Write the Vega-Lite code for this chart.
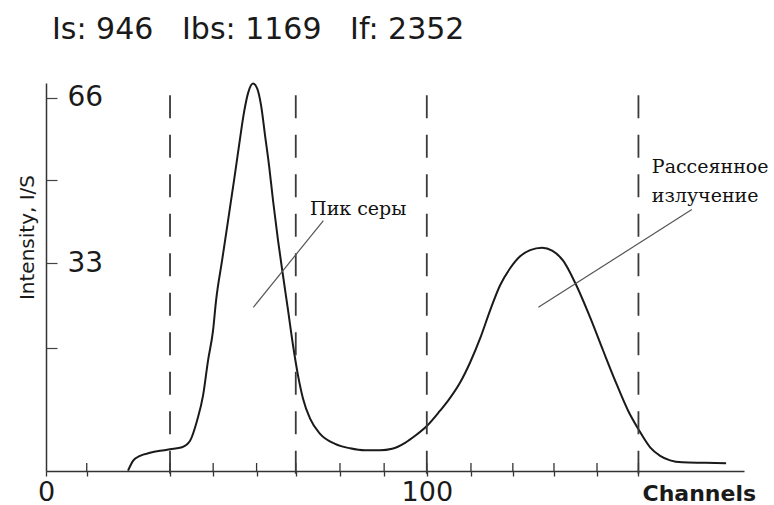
{
  "$schema": "https://vega.github.io/schema/vega-lite/v6.json",
  "width": 698,
  "height": 388,
  "autosize": "none",
  "padding": {"left": 46, "top": 83, "right": 30, "bottom": 34},
  "background": "white",
  "config": {"view": {"stroke": null}},
  "title": {
    "text": "Is: 946\u00a0\u00a0\u00a0Ibs: 1169\u00a0\u00a0\u00a0If: 2352",
    "anchor": "start",
    "frame": "group",
    "dx": 6,
    "offset": 35,
    "font": "DejaVu Sans",
    "fontSize": 30,
    "fontWeight": "normal",
    "color": "#1a1a1a"
  },
  "datasets": {
    "curve": [
      {"ch": 21.54, "I": -8.36}, {"ch": 22.85, "I": -6.4}, {"ch": 24.69, "I": -5.4}, {"ch": 27.32, "I": -4.8},
      {"ch": 29.95, "I": -4.4}, {"ch": 32.57, "I": -4.1}, {"ch": 35.72, "I": -3.7}, {"ch": 37.83, "I": -2.4},
      {"ch": 39.66, "I": 1.6}, {"ch": 41.24, "I": 6.6}, {"ch": 42.55, "I": 13.6}, {"ch": 43.87, "I": 19.6},
      {"ch": 44.65, "I": 25.5}, {"ch": 46.23, "I": 33.5}, {"ch": 47.81, "I": 41.5}, {"ch": 49.38, "I": 49.5},
      {"ch": 50.7, "I": 56.5}, {"ch": 52.01, "I": 63.1}, {"ch": 53.06, "I": 66.9}, {"ch": 54.37, "I": 68.8},
      {"ch": 55.42, "I": 67.9}, {"ch": 56.47, "I": 64.5}, {"ch": 57.52, "I": 58.5}, {"ch": 58.57, "I": 52.5},
      {"ch": 59.62, "I": 45.5}, {"ch": 60.94, "I": 37.5}, {"ch": 62.25, "I": 30.5}, {"ch": 63.57, "I": 23.6},
      {"ch": 64.88, "I": 16.6}, {"ch": 66.19, "I": 10.6}, {"ch": 67.5, "I": 6.0}, {"ch": 69.35, "I": 2.0},
      {"ch": 71.97, "I": -1.0}, {"ch": 75.91, "I": -3.0}, {"ch": 79.85, "I": -3.9}, {"ch": 83.8, "I": -4.3},
      {"ch": 87.73, "I": -4.3}, {"ch": 90.89, "I": -4.0}, {"ch": 94.3, "I": -2.8}, {"ch": 96.93, "I": -1.4},
      {"ch": 100.08, "I": 0.6}, {"ch": 103.49, "I": 3.6}, {"ch": 105.6, "I": 5.6}, {"ch": 108.75, "I": 9.2},
      {"ch": 111.37, "I": 13.2}, {"ch": 114.0, "I": 18.0}, {"ch": 116.63, "I": 23.6}, {"ch": 119.25, "I": 28.6},
      {"ch": 121.88, "I": 32.0}, {"ch": 124.51, "I": 34.4}, {"ch": 127.13, "I": 35.6}, {"ch": 130.29, "I": 36.1},
      {"ch": 132.91, "I": 35.5}, {"ch": 135.8, "I": 33.5}, {"ch": 138.95, "I": 29.1}, {"ch": 142.89, "I": 22.2},
      {"ch": 146.3, "I": 15.6}, {"ch": 149.46, "I": 9.6}, {"ch": 152.87, "I": 3.6}, {"ch": 155.5, "I": 0.0},
      {"ch": 158.65, "I": -3.7}, {"ch": 161.28, "I": -5.4}, {"ch": 163.9, "I": -6.3}, {"ch": 167.06, "I": -6.7},
      {"ch": 173.1, "I": -6.8}, {"ch": 178.6, "I": -6.9}
    ],
    "dashes": [
      {"ch": 32.57, "top": 66.46, "bottom": -9.26},
      {"ch": 65.59, "top": 66.46, "bottom": -9.26},
      {"ch": 100.0, "top": 66.46, "bottom": -9.26},
      {"ch": 155.58, "top": 66.46, "bottom": -9.26}
    ],
    "ticks": [
      {"ch": 10.7}, {"ch": 32.57}, {"ch": 43.9}, {"ch": 55.3}, {"ch": 65.59}, {"ch": 77.2}, {"ch": 88.8},
      {"ch": 100.0}, {"ch": 111.6}, {"ch": 122.6}, {"ch": 133.4}, {"ch": 144.7}, {"ch": 155.58}
    ],
    "pointers": [
      {"id": "s", "ch": 72.84, "I": 41.5}, {"id": "s", "ch": 54.45, "I": 24.2},
      {"id": "r", "ch": 169.6, "I": 43.7}, {"id": "r", "ch": 129.3, "I": 24.2}
    ],
    "labels": [
      {"ch": 69.35, "I": 42.7, "text": "Пик серы"},
      {"ch": 159.1, "I": 50.96, "text": "Рассеянное"},
      {"ch": 159.1, "I": 45.17, "text": "излучение"}
    ]
  },
  "layer": [
    {
      "data": {"name": "curve"},
      "mark": {"type": "line", "color": "#1a1a1a", "strokeWidth": 2, "interpolate": "monotone"},
      "encoding": {
        "x": {
          "field": "ch", "type": "quantitative",
          "scale": {"domain": [0, 183.3], "nice": false, "zero": false},
          "axis": {
            "title": "Channels",
            "values": [0, 10.7, 32.57, 43.9, 55.3, 65.59, 77.2, 88.8, 100, 111.6, 122.6, 133.4, 144.7, 155.58],
            "labelExpr": "datum.value == 0 || datum.value == 100 ? datum.label : ''",
            "grid": false,
            "tickSize": 5, "tickColor": "#333", "tickWidth": 1.3,
            "domainColor": "#333", "domainWidth": 1.5,
            "labelPadding": 3, "labelFlush": false, "labelOverlap": false,
            "labelFont": "DejaVu Sans", "labelFontSize": 27, "labelColor": "#1a1a1a",
            "titleFont": "DejaVu Sans", "titleFontSize": 22, "titleFontWeight": "bold", "titleColor": "#1a1a1a",
            "titleX": 596, "titleY": 22, "titleAlign": "left", "titleBaseline": "middle", "titleAnchor": "start"
          }
        },
        "y": {
          "field": "I", "type": "quantitative",
          "scale": {"domain": [-8.42, 68.92], "nice": false, "zero": false},
          "axis": {
            "title": "Intensity, I/S",
            "values": [16.12, 33, 49.64, 66],
            "labelExpr": "datum.value == 33 || datum.value == 66 ? format(datum.value, 'd') : ''",
            "grid": false,
            "tickSize": -11, "tickColor": "#444", "tickWidth": 1.2,
            "domainColor": "#333", "domainWidth": 1.5,
            "labelAlign": "left", "labelPadding": -10, "labelBaseline": "middle",
            "labelFont": "DejaVu Sans", "labelFontSize": 28, "labelColor": "#1a1a1a",
            "titleFont": "DejaVu Sans", "titleFontSize": 20, "titleFontWeight": "normal", "titleColor": "#1a1a1a",
            "titleX": -19, "titleY": 154, "titleAngle": -90, "titleAlign": "center", "titleBaseline": "middle"
          }
        }
      }
    },
    {
      "data": {"name": "ticks"},
      "mark": {"type": "rule", "color": "#333", "strokeWidth": 1.3},
      "encoding": {
        "x": {"field": "ch", "type": "quantitative"},
        "y": {"datum": -8.42, "type": "quantitative"},
        "y2": {"datum": -6.82}
      }
    },
    {
      "data": {"name": "dashes"},
      "mark": {"type": "rule", "color": "#3a3a3a", "strokeWidth": 1.8, "strokeDash": [23, 16.5]},
      "encoding": {
        "x": {"field": "ch", "type": "quantitative"},
        "y": {"field": "top", "type": "quantitative"},
        "y2": {"field": "bottom"}
      }
    },
    {
      "data": {"name": "pointers"},
      "mark": {"type": "line", "color": "#555", "strokeWidth": 1.2},
      "encoding": {
        "x": {"field": "ch", "type": "quantitative"},
        "y": {"field": "I", "type": "quantitative"},
        "detail": {"field": "id"}
      }
    },
    {
      "data": {"name": "labels"},
      "mark": {"type": "text", "font": "DejaVu Serif", "fontSize": 19, "align": "left", "baseline": "alphabetic", "color": "#111"},
      "encoding": {
        "x": {"field": "ch", "type": "quantitative"},
        "y": {"field": "I", "type": "quantitative"},
        "text": {"field": "text"}
      }
    }
  ]
}
